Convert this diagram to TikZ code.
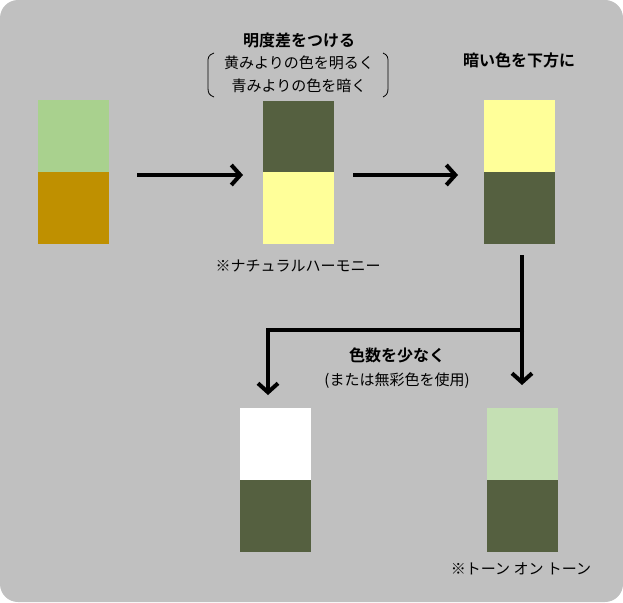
\documentclass[tikz,border=0pt]{standalone}
\usetikzlibrary{arrows.meta}
\usepackage{fontspec}
\newfontfamily\jp{Noto Sans CJK JP}
\newfontfamily\jpb{Noto Sans CJK JP Bold}
\definecolor{bg}{HTML}{C0C0C0}
\definecolor{dk}{HTML}{556040}
\definecolor{ly}{HTML}{FFFF99}
\definecolor{lg}{HTML}{A9D18E}
\definecolor{pg}{HTML}{C5E0B4}
\definecolor{gd}{HTML}{BF9000}
\begin{document}
\begin{tikzpicture}[x=1pt,y=-1pt,
 blk/.style={minimum width=71pt,minimum height=72pt,inner sep=0,outer sep=0,draw=none,anchor=north west},
 arr/.style={line width=4.5pt,-{Straight Barb[length=9pt,width=20pt,line width=4pt]}},
 ln/.style={line width=4.5pt},
 t/.style={font=\jp\fontsize{15}{18}\selectfont,inner sep=0},
 tb/.style={font=\jpb\fontsize{16}{19}\selectfont,inner sep=0}]
\useasboundingbox (0,0) rectangle (623,602);
\fill[bg,rounded corners=18pt] (0,0) rectangle (623,602);
\node[blk,fill=lg] (a1) at (38,100) {};
\node[blk,fill=gd] (a2) at (38,172) {};
\node[blk,fill=dk] (b1) at (263,101) {};
\node[blk,fill=ly] (b2) at (263,172) {};
\node[blk,fill=ly] (c1) at (484,100) {};
\node[blk,fill=dk] (c2) at (484,172) {};
\node[blk,fill=white] (d1) at (240,408) {};
\node[blk,fill=dk] (d2) at (240,480) {};
\node[blk,fill=pg] (e1) at (487,408) {};
\node[blk,fill=dk] (e2) at (487,480) {};
\draw[arr] (137,175) -- (243,175);
\draw[arr] (353,175) -- (458,175);
\coordinate (j) at (522,330);
\draw[ln] (522,255) -- (j);
\draw[arr] (524,330) -- (268,330) -- (268,395);
\draw[arr] (j) -- (522,385);
\node[tb] (h1) at (299,40) {明度差をつける};
\node[t] (l1) at (299,63) {黄みよりの色を明るく};
\node[t] (l2) at (299,86) {青みよりの色を暗く};
\draw[line width=0.8pt] (214,53) .. controls (208,55) and (208,58) .. (208,62) -- (208,88) .. controls (208,93) and (209,95) .. (214,97);
\draw[line width=0.8pt] (383,53) .. controls (388,55) and (388,58) .. (388,62) -- (388,88) .. controls (388,93) and (387,95) .. (383,97);
\node[tb] (h2) at (519,60) {暗い色を下方に};
\node[t] (n1) at (298,266) {※ナチュラルハーモニー};
\node[tb] (h3) at (397,355) {色数を少なく};
\node[t] (n2) at (397,381) {(または無彩色を使用)};
\node[t] (n3) at (521,569) {※トーン オン トーン};
\end{tikzpicture}
\end{document}
